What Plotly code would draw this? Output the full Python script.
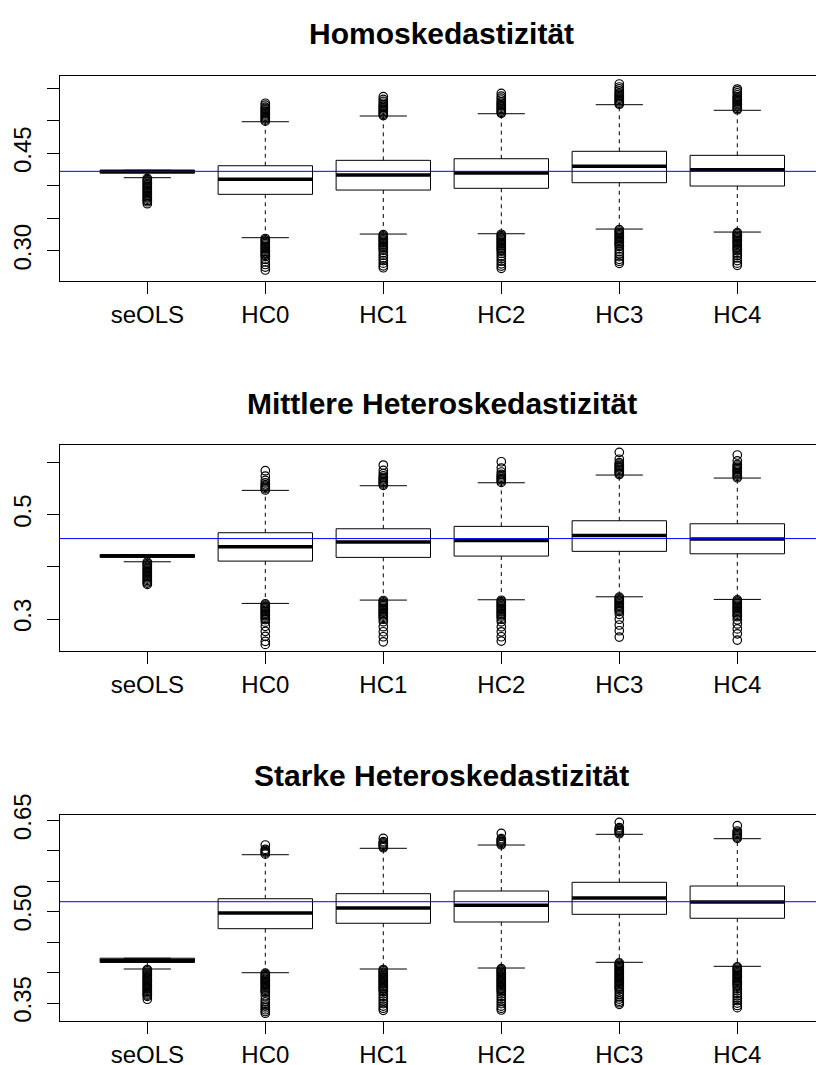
import plotly.graph_objects as go

# ---------------- data ----------------
categories = ["seOLS", "HC0", "HC1", "HC2", "HC3", "HC4"]
panel_titles = ["Homoskedastizität", "Mittlere Heteroskedastizität", "Starke Heteroskedastizität"]

# Panel 1: Homoskedastizität
homo_q1 = [0.4195, 0.3869, 0.3935, 0.3962, 0.4048, 0.3997]
homo_median = [0.4220, 0.4100, 0.4166, 0.4197, 0.4300, 0.4248]
homo_q3 = [0.4240, 0.4309, 0.4392, 0.4417, 0.4531, 0.4469]
homo_lower_whisker = [0.4125, 0.3202, 0.3258, 0.3263, 0.3335, 0.3289]
homo_upper_whisker = [0.4240, 0.4986, 0.5074, 0.5109, 0.5248, 0.5162]
homo_true_se = 0.4223
homo_upper_out = [
    [],
    [0.4995, 0.5010, 0.5030, 0.5050, 0.5070, 0.5090, 0.5110, 0.5130, 0.5150, 0.5170, 0.5190, 0.5210, 0.5240, 0.5270],
    [0.5080, 0.5100, 0.5120, 0.5140, 0.5160, 0.5180, 0.5200, 0.5220, 0.5240, 0.5270, 0.5300, 0.5330, 0.5371],
    [0.5115, 0.5130, 0.5150, 0.5170, 0.5190, 0.5210, 0.5230, 0.5250, 0.5270, 0.5290, 0.5320, 0.5350, 0.5380, 0.5423],
    [0.5255, 0.5270, 0.5290, 0.5310, 0.5330, 0.5350, 0.5370, 0.5390, 0.5410, 0.5430, 0.5460, 0.5490, 0.5520, 0.5566],
    [0.5170, 0.5190, 0.5210, 0.5230, 0.5250, 0.5270, 0.5290, 0.5310, 0.5330, 0.5350, 0.5370, 0.5400, 0.5430, 0.5460, 0.5489],
]
homo_lower_out = [
    [0.4115, 0.4095, 0.4075, 0.4055, 0.4035, 0.4015, 0.3995, 0.3975, 0.3955, 0.3935, 0.3915, 0.3895, 0.3875, 0.3855, 0.3835, 0.3815, 0.3795, 0.3775, 0.3755, 0.3725],
    [0.3190, 0.3170, 0.3150, 0.3130, 0.3110, 0.3090, 0.3070, 0.3050, 0.3030, 0.3010, 0.2990, 0.2970, 0.2950, 0.2930, 0.2910, 0.2870, 0.2830, 0.2790, 0.2750, 0.2705],
    [0.3250, 0.3230, 0.3210, 0.3190, 0.3170, 0.3150, 0.3130, 0.3110, 0.3090, 0.3070, 0.3050, 0.3030, 0.3010, 0.2970, 0.2930, 0.2890, 0.2850, 0.2810, 0.2770, 0.2740],
    [0.3255, 0.3235, 0.3215, 0.3195, 0.3175, 0.3155, 0.3135, 0.3115, 0.3095, 0.3075, 0.3055, 0.3035, 0.3015, 0.2995, 0.2960, 0.2920, 0.2880, 0.2840, 0.2800, 0.2765, 0.2731],
    [0.3325, 0.3305, 0.3285, 0.3265, 0.3245, 0.3225, 0.3205, 0.3185, 0.3165, 0.3145, 0.3125, 0.3105, 0.3085, 0.3065, 0.3030, 0.2990, 0.2950, 0.2910, 0.2870, 0.2840, 0.2808],
    [0.3280, 0.3260, 0.3240, 0.3220, 0.3200, 0.3180, 0.3160, 0.3140, 0.3120, 0.3100, 0.3080, 0.3060, 0.3040, 0.3020, 0.3000, 0.2965, 0.2930, 0.2890, 0.2850, 0.2810, 0.2777],
]
homo_yticks = [0.30, 0.35, 0.40, 0.45, 0.50, 0.55]
homo_yticklabels = ["0.30", "", "", "0.45", "", ""]

# Panel 2: Mittlere Heteroskedastizität
mid_q1 = [0.4184, 0.4111, 0.4182, 0.4207, 0.4298, 0.4251]
mid_median = [0.4210, 0.4386, 0.4476, 0.4508, 0.4604, 0.4534]
mid_q3 = [0.4236, 0.4655, 0.4731, 0.4777, 0.4885, 0.4827]
mid_lower_whisker = [0.4098, 0.3299, 0.3363, 0.3369, 0.3426, 0.3376]
mid_upper_whisker = [0.4236, 0.5468, 0.5557, 0.5614, 0.5762, 0.5704]
mid_true_se = 0.4543
mid_upper_out = [
    [],
    [0.5475, 0.5500, 0.5525, 0.5550, 0.5575, 0.5610, 0.5660, 0.5740, 0.5845],
    [0.5565, 0.5590, 0.5615, 0.5640, 0.5665, 0.5690, 0.5715, 0.5745, 0.5790, 0.5850, 0.5954],
    [0.5620, 0.5645, 0.5670, 0.5695, 0.5720, 0.5745, 0.5775, 0.5820, 0.5896, 0.6017],
    [0.5770, 0.5795, 0.5820, 0.5845, 0.5870, 0.5895, 0.5920, 0.5945, 0.5970, 0.6000, 0.6065, 0.6198],
    [0.5710, 0.5735, 0.5760, 0.5785, 0.5810, 0.5835, 0.5860, 0.5885, 0.5910, 0.5935, 0.5965, 0.6035, 0.6146],
]
mid_lower_out = [
    [0.4090, 0.4065, 0.4040, 0.4015, 0.3990, 0.3965, 0.3940, 0.3915, 0.3890, 0.3865, 0.3840, 0.3815, 0.3790, 0.3765, 0.3740, 0.3715, 0.3690, 0.3664],
    [0.3290, 0.3265, 0.3240, 0.3215, 0.3190, 0.3165, 0.3140, 0.3115, 0.3090, 0.3065, 0.3040, 0.3015, 0.2990, 0.2940, 0.2860, 0.2764, 0.2668, 0.2572, 0.2512],
    [0.3355, 0.3330, 0.3305, 0.3280, 0.3255, 0.3230, 0.3205, 0.3180, 0.3155, 0.3130, 0.3105, 0.3080, 0.3055, 0.3030, 0.2995, 0.2948, 0.2852, 0.2756, 0.2660, 0.2562],
    [0.3360, 0.3335, 0.3310, 0.3285, 0.3260, 0.3235, 0.3210, 0.3185, 0.3160, 0.3135, 0.3110, 0.3085, 0.3060, 0.3035, 0.2995, 0.2945, 0.2850, 0.2755, 0.2660, 0.2576],
    [0.3418, 0.3393, 0.3368, 0.3343, 0.3318, 0.3293, 0.3268, 0.3243, 0.3218, 0.3193, 0.3168, 0.3143, 0.3090, 0.2995, 0.2885, 0.2775, 0.2653],
    [0.3368, 0.3343, 0.3318, 0.3293, 0.3268, 0.3243, 0.3218, 0.3193, 0.3168, 0.3143, 0.3118, 0.3093, 0.3068, 0.3043, 0.2985, 0.2905, 0.2810, 0.2715, 0.2595],
]
mid_yticks = [0.3, 0.4, 0.5, 0.6]
mid_yticklabels = ["0.3", "", "0.5", ""]

# Panel 3: Starke Heteroskedastizität
strong_q1 = [0.4166, 0.4721, 0.4810, 0.4831, 0.4957, 0.4892]
strong_median = [0.4200, 0.4979, 0.5061, 0.5105, 0.5225, 0.5159]
strong_q3 = [0.4236, 0.5213, 0.5296, 0.5340, 0.5483, 0.5422]
strong_lower_whisker = [0.4059, 0.3998, 0.4059, 0.4075, 0.4169, 0.4103]
strong_upper_whisker = [0.4236, 0.5936, 0.6041, 0.6095, 0.6271, 0.6199]
strong_true_se = 0.5164
strong_upper_out = [
    [],
    [0.5945, 0.5965, 0.5985, 0.6005, 0.6025, 0.6095],
    [0.6050, 0.6070, 0.6090, 0.6110, 0.6130, 0.6150, 0.6205],
    [0.6100, 0.6120, 0.6140, 0.6160, 0.6180, 0.6200, 0.6287],
    [0.6280, 0.6300, 0.6320, 0.6340, 0.6360, 0.6380, 0.6468],
    [0.6205, 0.6225, 0.6245, 0.6265, 0.6285, 0.6305, 0.6325, 0.6412],
]
strong_lower_out = [
    [0.4050, 0.4030, 0.4010, 0.3990, 0.3970, 0.3950, 0.3930, 0.3910, 0.3890, 0.3870, 0.3850, 0.3830, 0.3810, 0.3790, 0.3770, 0.3750, 0.3730, 0.3710, 0.3690, 0.3670, 0.3650, 0.3630, 0.3610, 0.3562],
    [0.3990, 0.3970, 0.3950, 0.3930, 0.3910, 0.3890, 0.3870, 0.3850, 0.3830, 0.3810, 0.3790, 0.3770, 0.3750, 0.3730, 0.3710, 0.3690, 0.3670, 0.3620, 0.3560, 0.3520, 0.3480, 0.3450, 0.3420, 0.3390, 0.3360, 0.3332],
    [0.4050, 0.4030, 0.4010, 0.3990, 0.3970, 0.3950, 0.3930, 0.3910, 0.3890, 0.3870, 0.3850, 0.3830, 0.3810, 0.3790, 0.3770, 0.3750, 0.3730, 0.3710, 0.3690, 0.3650, 0.3610, 0.3570, 0.3530, 0.3490, 0.3450, 0.3415, 0.3381],
    [0.4065, 0.4045, 0.4025, 0.4005, 0.3985, 0.3965, 0.3945, 0.3925, 0.3905, 0.3885, 0.3865, 0.3845, 0.3825, 0.3805, 0.3785, 0.3765, 0.3745, 0.3725, 0.3705, 0.3685, 0.3650, 0.3610, 0.3570, 0.3530, 0.3490, 0.3450, 0.3415, 0.3386],
    [0.4160, 0.4140, 0.4120, 0.4100, 0.4080, 0.4060, 0.4040, 0.4020, 0.4000, 0.3980, 0.3960, 0.3940, 0.3920, 0.3900, 0.3880, 0.3860, 0.3840, 0.3820, 0.3800, 0.3780, 0.3760, 0.3740, 0.3720, 0.3680, 0.3640, 0.3600, 0.3565, 0.3530, 0.3505, 0.3479],
    [0.4095, 0.4075, 0.4055, 0.4035, 0.4015, 0.3995, 0.3975, 0.3955, 0.3935, 0.3915, 0.3895, 0.3875, 0.3855, 0.3835, 0.3815, 0.3795, 0.3775, 0.3740, 0.3700, 0.3660, 0.3620, 0.3580, 0.3540, 0.3500, 0.3460, 0.3424],
]
strong_yticks = [0.35, 0.40, 0.45, 0.50, 0.55, 0.60, 0.65]
strong_yticklabels = ["0.35", "", "", "0.50", "", "", "0.65"]

# ---------------- layout settings ----------------
W, H = 816, 1065
FONT = "Liberation Sans, Arial, Helvetica, sans-serif"
TICK_SIZE = 24
TITLE_SIZE = 30
BOX_HALF = 0.4
CAP_HALF = 0.2
X_RANGE = [0.26, 6.667]

panels = [
    dict(title=panel_titles[0], q1=homo_q1, med=homo_median, q3=homo_q3,
         lw=homo_lower_whisker, uw=homo_upper_whisker, ref=homo_true_se,
         up=homo_upper_out, lo=homo_lower_out, yt=homo_yticks, ytl=homo_yticklabels,
         yrange=[0.2536, 0.5694], top_px=75.7, bot_px=281.0, title_px=34),
    dict(title=panel_titles[1], q1=mid_q1, med=mid_median, q3=mid_q3,
         lw=mid_lower_whisker, uw=mid_upper_whisker, ref=mid_true_se,
         up=mid_upper_out, lo=mid_lower_out, yt=mid_yticks, ytl=mid_yticklabels,
         yrange=[0.2392, 0.6344], top_px=444.7, bot_px=650.7, title_px=403),
    dict(title=panel_titles[2], q1=strong_q1, med=strong_median, q3=strong_q3,
         lw=strong_lower_whisker, uw=strong_upper_whisker, ref=strong_true_se,
         up=strong_upper_out, lo=strong_lower_out, yt=strong_yticks, ytl=strong_yticklabels,
         yrange=[0.3205, 0.6593], top_px=814.7, bot_px=1021.0, title_px=775),
]

fig = go.Figure()
layout_axes = {}
annotations = []
shapes = []

for p_i, p in enumerate(panels):
    n = p_i + 1
    xa = "x" if n == 1 else f"x{n}"
    ya = "y" if n == 1 else f"y{n}"
    positions = list(range(1, len(categories) + 1))

    # whiskers (dashed)
    wx, wy = [], []
    for i, pos in enumerate(positions):
        if p["uw"][i] > p["q3"][i]:
            wx += [pos, pos, None]
            wy += [p["q3"][i], p["uw"][i], None]
        if p["lw"][i] < p["q1"][i]:
            wx += [pos, pos, None]
            wy += [p["q1"][i], p["lw"][i], None]
    fig.add_trace(go.Scatter(x=wx, y=wy, mode="lines", xaxis=xa, yaxis=ya,
                             line=dict(color="black", width=1, dash="4px,4px"),
                             hoverinfo="skip", showlegend=False))
    # whisker caps
    cx, cy = [], []
    for i, pos in enumerate(positions):
        for v in (p["uw"][i], p["lw"][i]):
            cx += [pos - CAP_HALF, pos + CAP_HALF, None]
            cy += [v, v, None]
    fig.add_trace(go.Scatter(x=cx, y=cy, mode="lines", xaxis=xa, yaxis=ya,
                             line=dict(color="black", width=1),
                             hoverinfo="skip", showlegend=False))
    # boxes
    bx, by = [], []
    for i, pos in enumerate(positions):
        l, r = pos - BOX_HALF, pos + BOX_HALF
        bx += [l, r, r, l, l, None]
        by += [p["q1"][i], p["q1"][i], p["q3"][i], p["q3"][i], p["q1"][i], None]
    fig.add_trace(go.Scatter(x=bx, y=by, mode="lines", xaxis=xa, yaxis=ya,
                             line=dict(color="black", width=1),
                             hoverinfo="skip", showlegend=False))
    # medians
    mx, my = [], []
    for i, pos in enumerate(positions):
        mx += [pos - BOX_HALF, pos + BOX_HALF, None]
        my += [p["med"][i], p["med"][i], None]
    fig.add_trace(go.Scatter(x=mx, y=my, mode="lines", xaxis=xa, yaxis=ya,
                             line=dict(color="black", width=3.5),
                             hoverinfo="skip", showlegend=False))
    # outliers
    ox, oy = [], []
    for i, pos in enumerate(positions):
        for v in p["up"][i] + p["lo"][i]:
            ox.append(pos)
            oy.append(v)
    fig.add_trace(go.Scatter(x=ox, y=oy, mode="markers", xaxis=xa, yaxis=ya,
                             marker=dict(symbol="circle-open", size=8.5, color="black",
                                         line=dict(width=1.2)),
                             hoverinfo="skip", showlegend=False))

    # reference line
    shapes.append(dict(type="line", xref=f"{xa} domain", yref=ya, x0=0, x1=1,
                       y0=p["ref"], y1=p["ref"], line=dict(color="#0000FF", width=1),
                       layer="above"))

    ydom = [1 - p["bot_px"] / H, 1 - p["top_px"] / H]
    xkey = "xaxis" if n == 1 else f"xaxis{n}"
    ykey = "yaxis" if n == 1 else f"yaxis{n}"
    layout_axes[xkey] = dict(
        domain=[60 / W, 1.0], anchor=ya, range=X_RANGE,
        tickmode="array", tickvals=positions, ticktext=categories,
        ticks="outside", ticklen=12, tickwidth=1, tickcolor="black",
        showline=True, linecolor="black", linewidth=1, mirror=True,
        showgrid=False, zeroline=False, automargin=False,
        tickfont=dict(family=FONT, size=TICK_SIZE, color="black"),
    )
    layout_axes[ykey] = dict(
        domain=ydom, anchor=xa, range=p["yrange"],
        tickmode="array", tickvals=p["yt"], ticktext=p["ytl"],
        ticks="outside", ticklen=12, tickwidth=1, tickcolor="black",
        showline=True, linecolor="black", linewidth=1, mirror=False,
        showgrid=False, zeroline=False, automargin=False, tickangle=-90,
        ticklabelstandoff=6,
        tickfont=dict(family=FONT, size=TICK_SIZE, color="black"),
    )
    annotations.append(dict(text=f"<b>{p['title']}</b>", xref="paper", yref="paper",
                            x=442 / W, y=1 - p["title_px"] / H, xanchor="center",
                            yanchor="middle", showarrow=False,
                            font=dict(family=FONT, size=TITLE_SIZE, color="black")))

fig.update_layout(
    width=W, height=H, margin=dict(l=0, r=0, t=0, b=0),
    paper_bgcolor="white", plot_bgcolor="white", showlegend=False,
    annotations=annotations, shapes=shapes, **layout_axes,
)

fig.write_html(
    "out.html",
    config={"displayModeBar": False, "staticPlot": True},
    post_script="document.body.style.margin='0';document.body.style.overflow='hidden';",
)
